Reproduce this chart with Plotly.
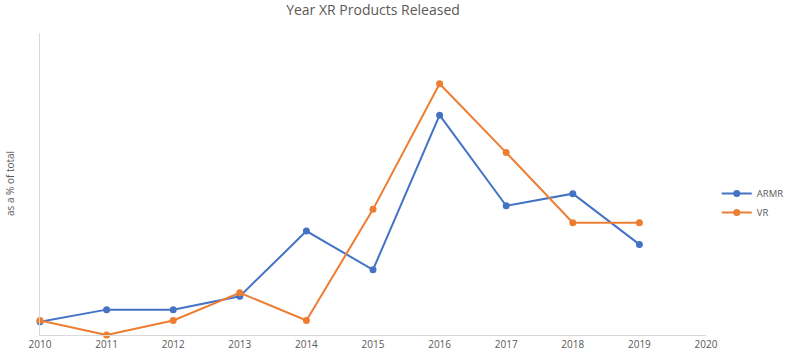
import plotly.graph_objects as go

years = [2010, 2011, 2012, 2013, 2014, 2015, 2016, 2017, 2018, 2019]
armr = [1.1, 2.1, 2.1, 3.2, 8.6, 5.4, 18.2, 10.7, 11.7, 7.5]
vr = [1.2, 0.0, 1.2, 3.5, 1.2, 10.4, 20.8, 15.1, 9.3, 9.3]
tick_years = list(range(2010, 2021))

fig = go.Figure()
fig.add_trace(go.Scatter(x=years, y=armr, name="ARMR", mode="lines+markers",
                         line=dict(color="#4472C4", width=2), marker=dict(size=7, color="#4472C4"),
                         cliponaxis=False))
fig.add_trace(go.Scatter(x=years, y=vr, name="VR", mode="lines+markers",
                         line=dict(color="#ED7D31", width=2), marker=dict(size=7, color="#ED7D31"),
                         cliponaxis=False))

fig.update_layout(
    width=792, height=363,
    margin=dict(l=40, r=86, t=33, b=28),
    paper_bgcolor="white", plot_bgcolor="white",
    font=dict(family="Open Sans", color="#595959"),
    title=dict(text="Year XR Products Released", x=0.5, xref="paper", y=0.985, yanchor="top",
               font=dict(size=14, color="#595959")),
    xaxis=dict(range=[2010, 2020], tickvals=tick_years, ticktext=[str(y) for y in tick_years],
               showgrid=False, zeroline=False, showline=True, linecolor="#d9d9d9", linewidth=1,
               tickfont=dict(size=10, color="#595959"), ticks="", automargin=False),
    yaxis=dict(range=[0, 25], showticklabels=False, showgrid=False, zeroline=False,
               showline=True, linecolor="#d9d9d9", linewidth=1, ticks="", automargin=False),
    legend=dict(xref="container", yref="container", x=0.905, y=0.441,
                xanchor="left", yanchor="middle",
                font=dict(size=9.5, color="#595959"), itemwidth=30),
    showlegend=True,
)
fig.add_annotation(text="as a % of total", xref="paper", yref="paper", x=-0.045, y=0.5,
                   textangle=-90, showarrow=False, xanchor="center", yanchor="middle",
                   font=dict(size=10, color="#595959"))
fig.write_html("out.html", config={"displayModeBar": False},
               post_script="document.body.style.margin='0px';")
